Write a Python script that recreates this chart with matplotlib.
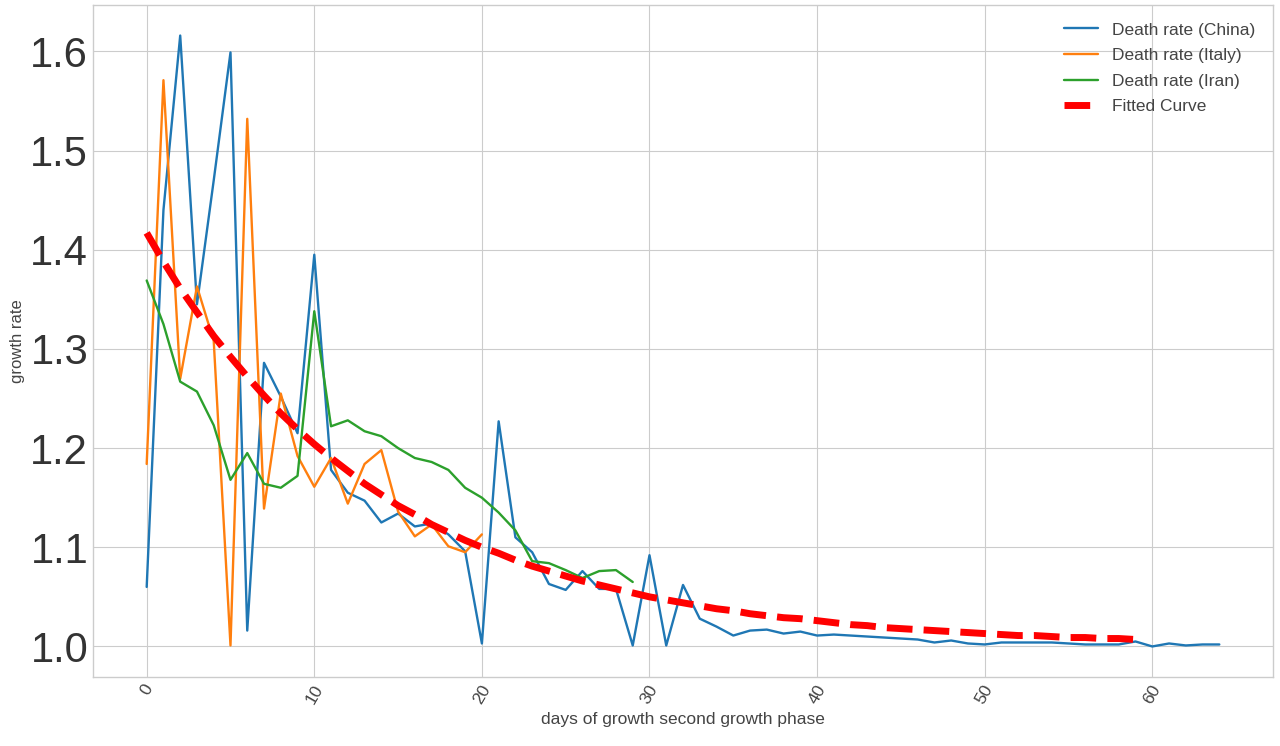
import numpy as np
import matplotlib
matplotlib.use('Agg')
import matplotlib.pyplot as plt

# growth rate of deaths
china = [1.060, 1.440, 1.616, 1.345, 1.470, 1.599, 1.016, 1.286, 1.252, 1.215,
         1.395, 1.178, 1.155, 1.147, 1.125, 1.134, 1.121, 1.124, 1.113, 1.096,
         1.003, 1.227, 1.110, 1.095, 1.063, 1.057, 1.076, 1.058, 1.058, 1.001,
         1.092, 1.001, 1.062, 1.028, 1.020, 1.011, 1.016, 1.017, 1.013, 1.015,
         1.011, 1.012, 1.011, 1.010, 1.009, 1.008, 1.007, 1.004, 1.006, 1.003,
         1.002, 1.004, 1.004, 1.004, 1.004, 1.003, 1.002, 1.002, 1.002, 1.005,
         1.000, 1.003, 1.001, 1.002, 1.002]
italy = [1.184, 1.571, 1.270, 1.363, 1.308, 1.001, 1.532, 1.139, 1.255, 1.192,
         1.161, 1.190, 1.144, 1.184, 1.198, 1.136, 1.111, 1.123, 1.101, 1.095,
         1.113]
iran = [1.369, 1.325, 1.267, 1.257, 1.223, 1.168, 1.195, 1.164, 1.160, 1.172,
        1.338, 1.222, 1.228, 1.217, 1.212, 1.200, 1.190, 1.186, 1.178, 1.160,
        1.150, 1.135, 1.117, 1.086, 1.084, 1.077, 1.069, 1.076, 1.077, 1.065]
fitted = [1.417, 1.388, 1.361, 1.337, 1.313, 1.292, 1.272, 1.253, 1.235, 1.219,
          1.204, 1.190, 1.177, 1.164, 1.153, 1.142, 1.133, 1.123, 1.115, 1.107,
          1.100, 1.094, 1.087, 1.081, 1.076, 1.071, 1.066, 1.062, 1.058, 1.054,
          1.050, 1.047, 1.044, 1.041, 1.038, 1.036, 1.033, 1.031, 1.029, 1.028,
          1.026, 1.024, 1.022, 1.021, 1.019, 1.018, 1.017, 1.016, 1.015, 1.014,
          1.013, 1.012, 1.011, 1.011, 1.010, 1.009, 1.009, 1.008, 1.008, 1.007]

plt.style.use('seaborn-v0_8-whitegrid')
plt.rcParams['font.family'] = ['Liberation Sans', 'DejaVu Sans']

fig = plt.figure(figsize=(12.8, 7.46), dpi=100)
ax = fig.add_axes([0.0727, 0.0925, 0.9218, 0.9008])

ax.plot(np.arange(len(china)), china, color='#1f77b4', lw=1.7, label='Death rate (China)')
ax.plot(np.arange(len(italy)), italy, color='#ff7f0e', lw=1.7, label='Death rate (Italy)')
ax.plot(np.arange(len(iran)), iran, color='#2ca02c', lw=1.7, label='Death rate (Iran)')
ax.plot(np.arange(len(fitted)), fitted, color='red', lw=5, ls='--', label='Fitted Curve')

ax.set_xlabel('days of growth second growth phase', fontsize=12.5, color='#444444')
ax.set_ylabel('growth rate', fontsize=12, color='#444444')
ax.tick_params(axis='y', labelsize=30, labelcolor='#333333')
ax.tick_params(axis='x', labelsize=12.5, labelrotation=60, labelcolor='#444444')

leg = ax.legend(loc='upper right', fontsize=12.5, frameon=False, labelspacing=0.6,
                borderaxespad=0.6)
for t in leg.get_texts():
    t.set_color('#444444')

fig.savefig('out.png', dpi=100)
